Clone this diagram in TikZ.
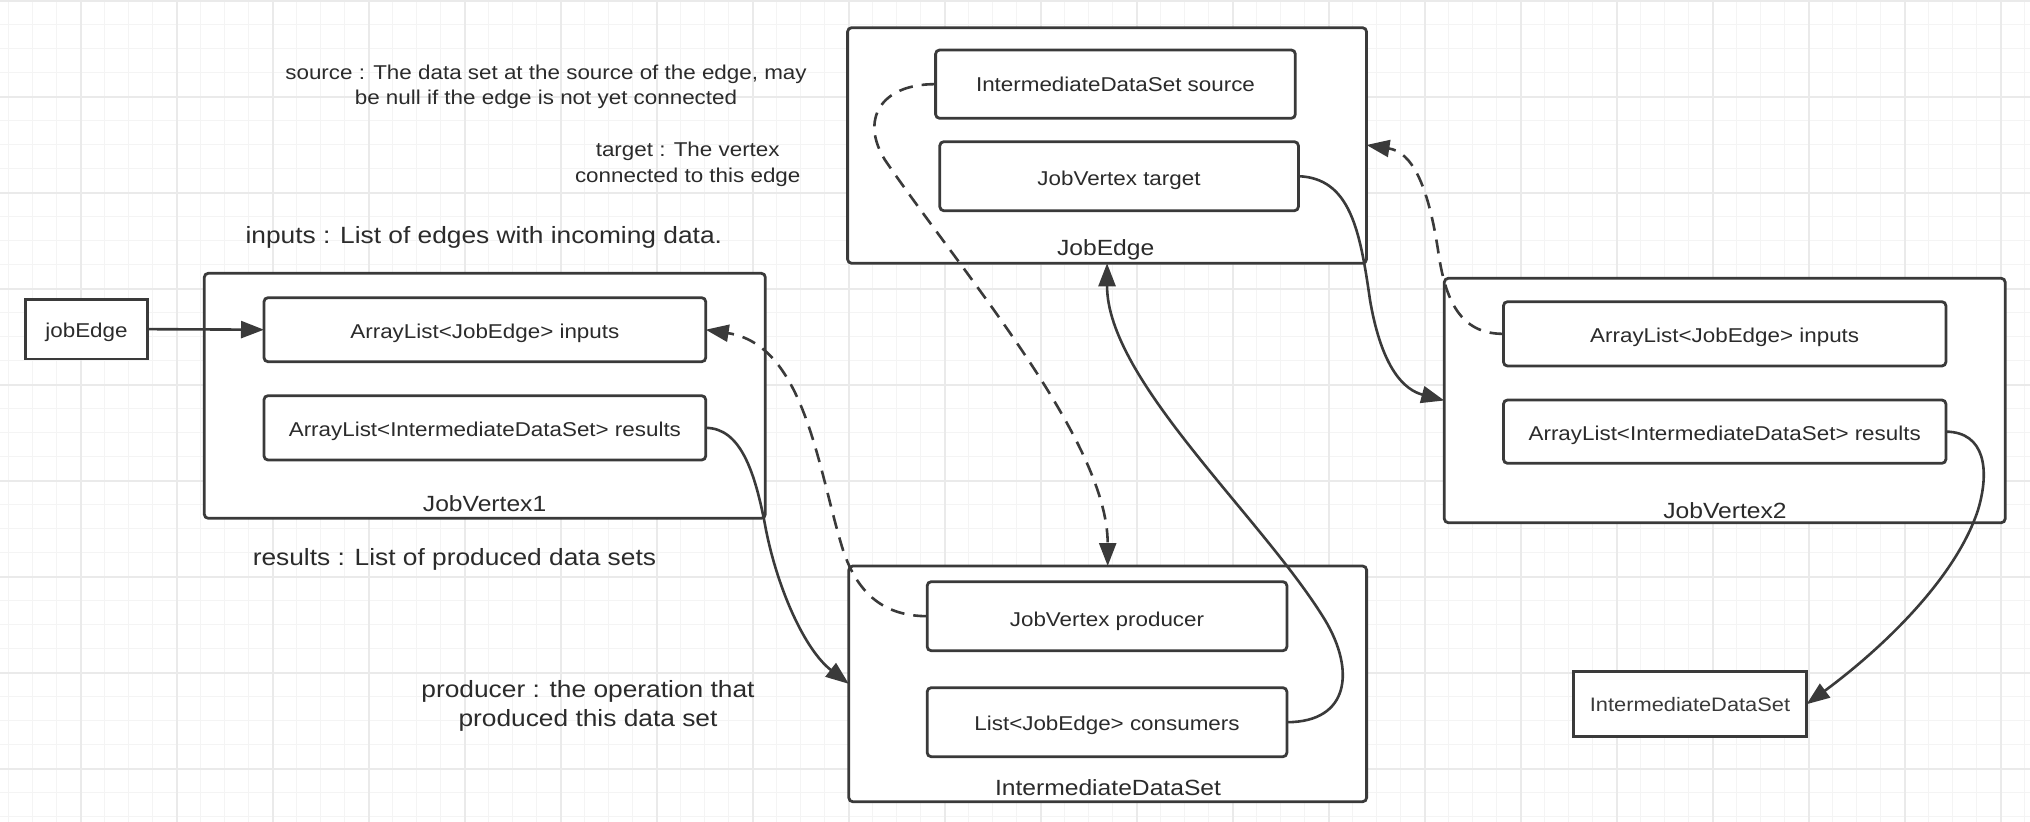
\documentclass[tikz,border=0pt]{standalone}
\usepackage{fontspec}
\setmainfont{Liberation Sans}[FakeStretch=1.12]
\usetikzlibrary{arrows.meta}
\definecolor{gridminor}{HTML}{F4F4F4}
\definecolor{gridmajor}{HTML}{EAEAEA}
\definecolor{linec}{HTML}{3A3A3A}
\definecolor{txtc}{HTML}{2B2B2B}
\begin{document}
\begin{tikzpicture}[x=1pt,y=-1pt,
  box/.style={draw=linec, line width=2.8pt, fill=white, inner sep=0pt, outer sep=0pt, anchor=north west, rounded corners=4pt},
  sharpbox/.style={box, sharp corners},
  txt/.style={inner sep=0pt, outer sep=0pt, anchor=base, text=txtc, font=\fontsize{20pt}{24pt}\selectfont},
  lbl/.style={txt, font=\fontsize{22pt}{26pt}\selectfont},
  note/.style={txt},
  bignote/.style={txt, font=\fontsize{23.5pt}{28pt}\selectfont},
  conn/.style={draw=linec, line width=2.6pt, -{Triangle[length=23pt,width=17pt]}},
  dconn/.style={conn, dash pattern=on 14pt off 9pt}
]
\useasboundingbox (0,0) rectangle (2030,822);
\fill[white] (0,0) rectangle (2030,822);
% grid
\foreach \k in {0,...,84} \draw[gridminor, line width=1.5pt] ({8.7+24*\k},0) -- ({8.7+24*\k},822);
\foreach \k in {0,...,34} \draw[gridminor, line width=1.5pt] (0,{0.7+24*\k}) -- (2030,{0.7+24*\k});
\foreach \k in {0,...,20} \draw[gridmajor, line width=2pt] ({80.7+96*\k},0) -- ({80.7+96*\k},822);
\foreach \k in {0,...,8} \draw[gridmajor, line width=2pt] (0,{0.7+96*\k}) -- (2030,{0.7+96*\k});

% boxes
\node[sharpbox, minimum width=122pt, minimum height=59.7pt] (jobedge) at (25.5,299.3) {};
\node[box, minimum width=561pt, minimum height=245pt] (jv1) at (204.3,273.3) {};
\node[box, minimum width=441.7pt, minimum height=64pt] (v1in) at (264,297.7) {};
\node[box, minimum width=441.7pt, minimum height=64.3pt] (v1res) at (264,395.7) {};

\node[box, minimum width=518.9pt, minimum height=235.6pt] (je) at (847.6,27.7) {};
\node[box, minimum width=359.7pt, minimum height=68.3pt] (jesrc) at (935.6,50) {};
\node[box, minimum width=358.6pt, minimum height=69pt] (jetgt) at (939.8,141.7) {};

\node[box, minimum width=560.9pt, minimum height=244.4pt] (jv2) at (1444.3,278.3) {};
\node[box, minimum width=442.4pt, minimum height=64.3pt] (jv2in) at (1503.5,301.7) {};
\node[box, minimum width=442.4pt, minimum height=63.3pt] (jv2res) at (1503.5,400) {};

\node[box, minimum width=517.8pt, minimum height=235.7pt] (ids) at (848.8,566) {};
\node[box, minimum width=359.7pt, minimum height=69pt] (prod) at (927.2,581.7) {};
\node[box, minimum width=359.7pt, minimum height=69pt] (cons) at (927.2,687.7) {};

\node[sharpbox, minimum width=233pt, minimum height=65pt] (smallids) at (1573.6,671.7) {};

% texts in boxes
\node[txt] (tjobedge) at (86.5,337.3) {jobEdge};
\node[txt] (tv1in) at (484.9,338.3) {ArrayList<JobEdge> inputs};
\node[txt] (tv1res) at (484.9,436.7) {ArrayList<IntermediateDataSet> results};
\node[lbl] (ljv1) at (484.6,511.7) {JobVertex1};

\node[txt] (tjesrc) at (1115.5,91.7) {IntermediateDataSet source};
\node[txt] (tjetgt) at (1119,185.5) {JobVertex target};
\node[lbl] (lje) at (1105.7,255) {JobEdge};

\node[txt] (tjv2in) at (1724.7,342.3) {ArrayList<JobEdge> inputs};
\node[txt] (tjv2res) at (1724.7,440) {ArrayList<IntermediateDataSet> results};
\node[lbl] (ljv2) at (1725,518.3) {JobVertex2};

\node[txt] (tprod) at (1107,626) {JobVertex producer};
\node[txt] (tcons) at (1107,730) {List<JobEdge> consumers};
\node[lbl] (lids) at (1108,795) {IntermediateDataSet};

\node[txt, text=linec, font=\fontsize{19.5pt}{23pt}\selectfont] (tsmallids) at (1690,711.7) {IntermediateDataSet};

% annotations
\node[note] (nsrc1) at (546,79) {source : The data set at the source of the edge, may};
\node[note] (nsrc2) at (546,104) {be null if the edge is not yet connected};
\node[note] (ntgt1) at (687.7,156.7) {target : The vertex};
\node[note] (ntgt2) at (687.7,182) {connected to this edge};
\node[bignote] (ninputs) at (483.8,243.3) {inputs : List of edges with incoming data.};
\node[bignote] (nresults) at (454.4,565) {results : List of produced data sets};
\node[bignote] (nprod1) at (588,697.7) {producer : the operation that};
\node[bignote] (nprod2) at (588,726.7) {produced this data set};

% connectors
\draw[conn] (jobedge.east) -- (v1in.west);
\draw[conn] (v1res.east) .. controls (740,428) and (755,470) .. (766,530)
  .. controls (778,590) and (805,650) .. (ids.west);
\draw[dconn] (prod.west) .. controls (885,616) and (858,595) .. (843,550)
  .. controls (818,470) and (805,345) .. (v1in.east);
\draw[dconn] (jesrc.west) .. controls (880,84) and (860,120) .. (885,160)
  .. controls (960,270) and (1107.7,440) .. (ids.north);
\draw[conn] (cons.east) .. controls (1350,722) and (1355,670) .. (1325,620)
  .. controls (1262,517) and (1107,380) .. (je.south);
\draw[conn] (jetgt.east) .. controls (1350,178) and (1360,230) .. (1370,300)
  .. controls (1382,370) and (1405,390) .. (jv2.west);
\draw[dconn] (jv2in.west) .. controls (1460,334) and (1445,300) .. (1438,250)
  .. controls (1428,185) and (1412,152) .. ([yshift=-117.3pt]je.north east);
\draw[conn] (jv2res.east) .. controls (1985,432) and (1990,470) .. (1978,510)
  .. controls (1955,580) and (1880,650) .. (smallids.east);
\end{tikzpicture}
\end{document}
